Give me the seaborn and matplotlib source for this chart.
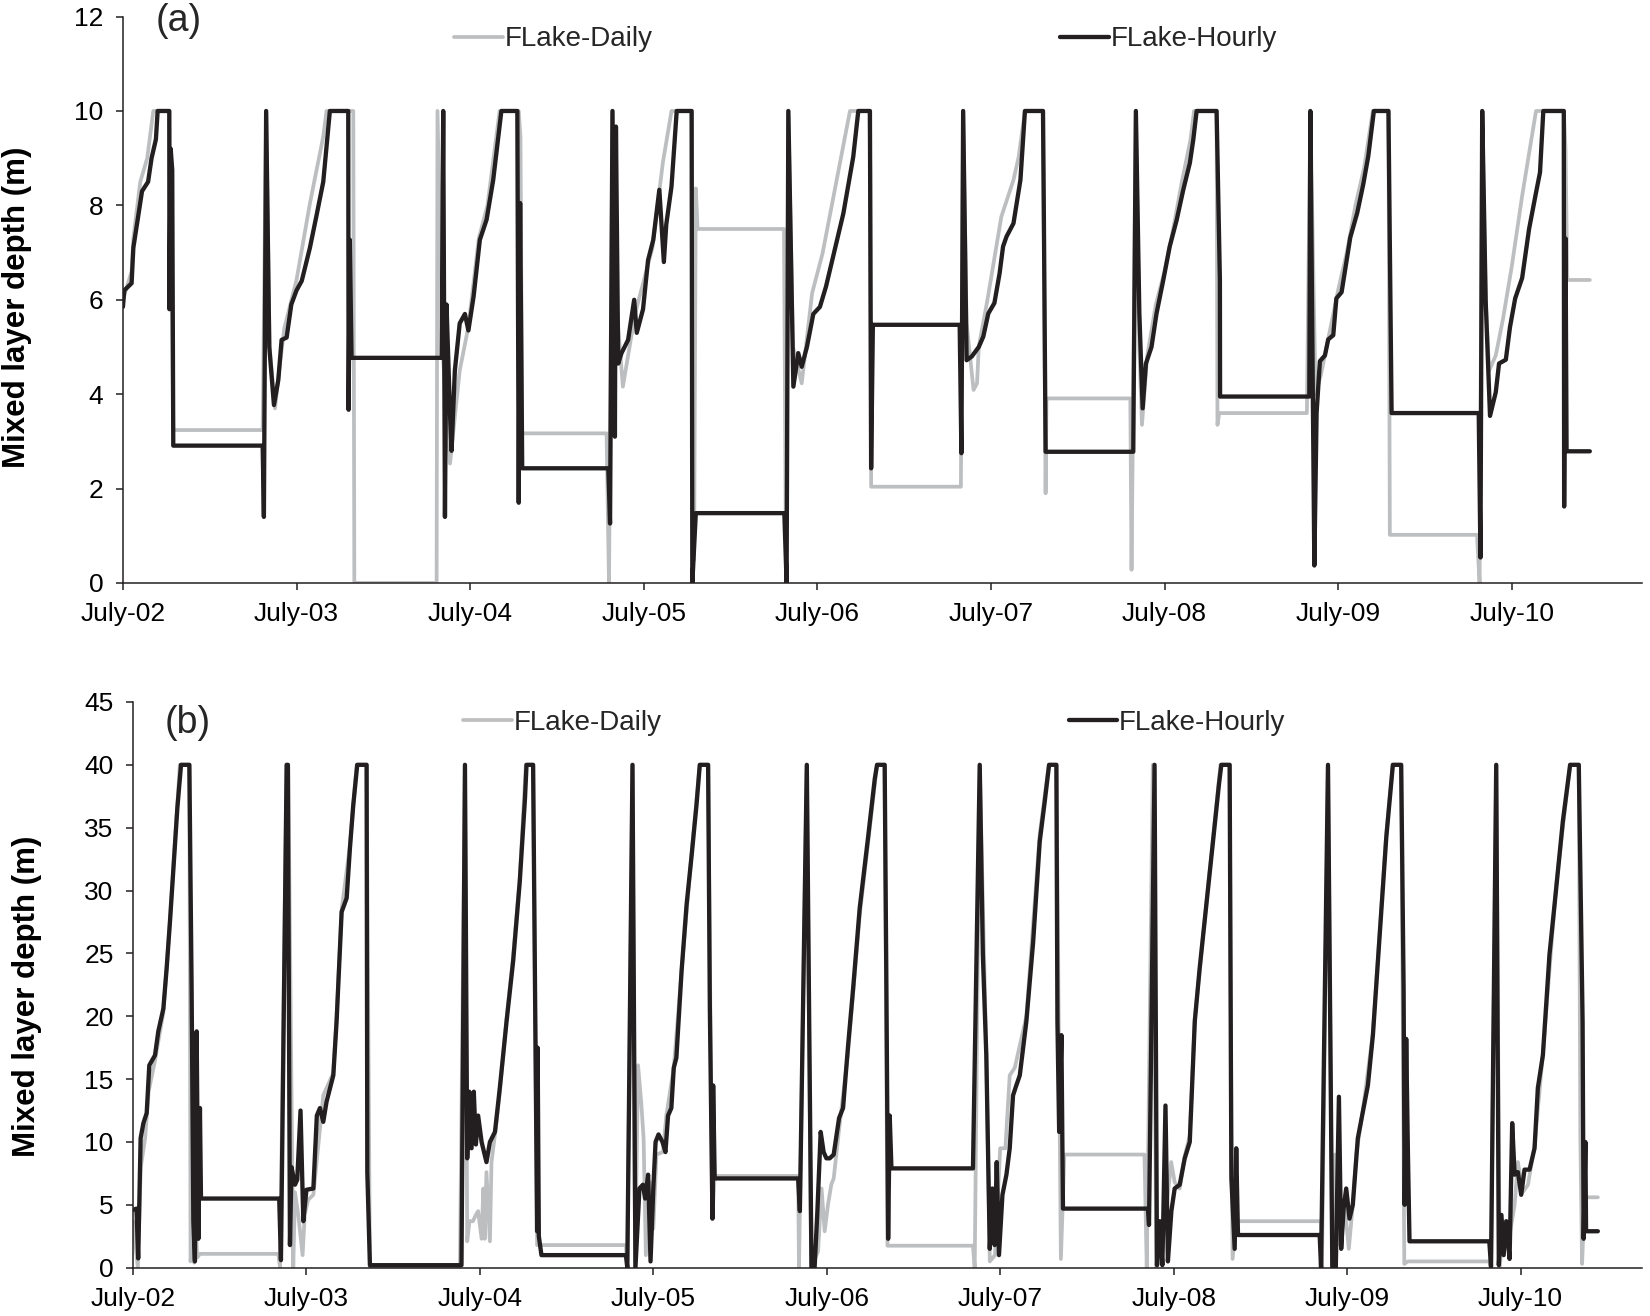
import matplotlib
matplotlib.use('Agg')
import matplotlib.pyplot as plt
import pandas as pd
import seaborn as sns

sns.set_style('ticks')
plt.rcParams['font.family'] = ['Liberation Sans', 'DejaVu Sans']

# Days after July-02 00:00 and mixed layer depth (m)
# Panel (a)
a_hourly_t = [0.000, 0.008, 0.05, 0.06, 0.11, 0.145, 0.165, 0.19, 0.20, 0.267, 0.268, 0.275, 0.284, 0.29,
              0.805, 0.812, 0.825, 0.843, 0.87, 0.895, 0.914, 0.943, 0.97, 1.0, 1.03, 1.077, 1.116, 1.154,
              1.192, 1.298, 1.30, 1.307, 1.317, 1.836, 1.845, 1.855, 1.864, 1.884, 1.893, 1.912, 1.94, 1.97,
              1.99, 2.02, 2.056, 2.095, 2.133, 2.18, 2.272, 2.28, 2.288, 2.30, 2.796, 2.806, 2.82, 2.834,
              2.84, 2.853, 2.872, 2.91, 2.945, 2.96, 2.996, 3.025, 3.055, 3.09, 3.116, 3.13, 3.16, 3.19,
              3.276, 3.28, 3.30, 3.81, 3.823, 3.833, 3.862, 3.89, 3.91, 3.94, 3.977, 4.015, 4.05, 4.09,
              4.15, 4.207, 4.236, 4.303, 4.31, 4.32, 4.82, 4.83, 4.84, 4.86, 4.89, 4.93, 4.956, 4.985,
              5.02, 5.05, 5.07, 5.09, 5.13, 5.17, 5.196, 5.30, 5.305, 5.315, 5.82, 5.835, 5.855, 5.874,
              5.893, 5.925, 5.954, 5.993, 6.03, 6.07, 6.108, 6.146, 6.166, 6.185, 6.30, 6.319, 6.32, 6.834,
              6.84, 6.863, 6.876, 6.895, 6.924, 6.943, 6.972, 6.99, 7.02, 7.04, 7.07, 7.11, 7.145, 7.174,
              7.206, 7.29, 7.298, 7.308, 7.81, 7.82, 7.83, 7.85, 7.875, 7.908, 7.927, 7.966, 7.99, 8.02,
              8.06, 8.10, 8.14, 8.163, 8.182, 8.30, 8.302, 8.31, 8.316, 8.45]
a_hourly_v = [5.85, 6.2, 6.35, 7.1, 8.3, 8.5, 9.0, 9.4, 10.0, 10.0, 5.8, 9.2, 8.75, 2.91,
              2.91, 1.4, 10.0, 5.0, 3.77, 4.3, 5.15, 5.2, 5.9, 6.2, 6.4, 7.1, 7.8, 8.5,
              10.0, 10.0, 3.67, 7.27, 4.77, 4.77, 10.0, 1.4, 5.9, 3.6, 2.8, 4.5, 5.5, 5.7,
              5.35, 6.07, 7.27, 7.7, 8.54, 10.0, 10.0, 1.7, 8.05, 2.43, 2.43, 1.26, 10.0, 3.1,
              9.67, 4.65, 4.87, 5.15, 6.0, 5.3, 5.8, 6.84, 7.27, 8.33, 6.8, 7.6, 8.4, 10.0,
              10.0, 0.0, 1.48, 1.48, 0.0, 10.0, 4.16, 4.87, 4.58, 5.0, 5.7, 5.85, 6.28, 6.9,
              7.83, 9.03, 10.0, 10.0, 2.43, 5.47, 5.47, 2.75, 10.0, 4.72, 4.8, 5.0, 5.22, 5.71,
              5.93, 6.56, 7.13, 7.34, 7.62, 8.54, 10.0, 10.0, 7.76, 2.78, 2.78, 10.0, 5.71, 3.7,
              4.65, 5.0, 5.71, 6.42, 7.13, 7.69, 8.33, 8.9, 9.4, 10.0, 10.0, 6.42, 3.95, 3.95,
              10.0, 0.37, 3.6, 4.7, 4.82, 5.16, 5.25, 6.03, 6.16, 6.63, 7.32, 7.84, 8.45, 9.05,
              10.0, 10.0, 7.15, 3.6, 3.6, 0.54, 10.0, 5.98, 3.54, 4.04, 4.65, 4.73, 5.42, 6.03,
              6.46, 7.5, 8.27, 8.7, 10.0, 10.0, 1.62, 7.3, 2.79, 2.79]

a_daily_t = [0.0, 0.05, 0.06, 0.10, 0.14, 0.175, 0.267, 0.275, 0.29, 0.805, 0.825, 0.845, 0.876, 0.90,
             0.93, 1.0, 1.077, 1.154, 1.173, 1.327, 1.333, 1.807, 1.812, 1.84, 1.884, 1.94, 1.99, 2.05,
             2.10, 2.17, 2.28, 2.29, 2.30, 2.786, 2.80, 2.82, 2.84, 2.88, 2.95, 3.05, 3.11, 3.16, 3.276,
             3.29, 3.30, 3.31, 3.808, 3.82, 3.833, 3.86, 3.91, 3.97, 4.03, 4.188, 4.30, 4.305, 4.31,
             4.827, 4.84, 4.86, 4.90, 4.92, 4.93, 4.98, 5.06, 5.13, 5.16, 5.196, 5.30, 5.315, 5.32,
             5.803, 5.81, 5.835, 5.855, 5.87, 5.90, 5.95, 6.0, 6.05, 6.10, 6.15, 6.17, 6.30, 6.305,
             6.315, 6.82, 6.84, 6.87, 6.90, 6.95, 7.0, 7.05, 7.10, 7.15, 7.20, 7.29, 7.298, 7.80,
             7.815, 7.83, 7.85, 7.87, 7.908, 7.95, 8.0, 8.06, 8.14, 8.30, 8.31, 8.32, 8.45]
a_daily_v = [6.0, 6.6, 7.3, 8.5, 9.0, 10.0, 10.0, 8.0, 3.24, 3.24, 10.0, 5.0, 3.7, 4.5,
             5.4, 6.42, 8.04, 9.46, 10.0, 10.0, 0.0, 0.0, 10.0, 5.0, 2.53, 4.5, 5.43, 7.3,
             8.0, 10.0, 10.0, 9.45, 3.17, 3.17, 0.0, 10.0, 6.0, 4.16, 5.7, 7.1, 8.9, 10.0, 10.0,
             0.49, 8.36, 7.5, 7.5, 0.0, 10.0, 5.0, 4.23, 6.14, 6.98, 10.0, 10.0, 8.75, 2.04,
             2.04, 10.0, 5.5, 4.09, 4.23, 5.0, 6.0, 7.76, 8.54, 9.03, 10.0, 10.0, 1.9, 3.91,
             3.91, 0.28, 10.0, 5.0, 3.35, 4.8, 5.9, 6.6, 7.5, 8.5, 9.4, 10.0, 10.0, 3.35,
             3.6, 3.6, 10.0, 4.0, 4.4, 5.3, 6.2, 7.0, 8.0, 8.8, 10.0, 10.0, 1.02, 1.02,
             0.0, 10.0, 6.0, 4.5, 4.82, 5.6, 6.7, 8.2, 10.0, 10.0, 9.2, 6.42, 6.42]

# Panel (b)
b_hourly_t = [0.0, 0.02, 0.03, 0.044, 0.06, 0.079, 0.094, 0.127, 0.146, 0.175, 0.194, 0.213, 0.232, 0.256,
              0.277, 0.325, 0.338, 0.348, 0.357, 0.367, 0.377, 0.386, 0.392, 0.843, 0.853, 0.886, 0.893,
              0.905, 0.914, 0.934, 0.947, 0.966, 0.982, 1.0, 1.04, 1.06, 1.078, 1.097, 1.116, 1.155,
              1.174, 1.203, 1.232, 1.251, 1.27, 1.293, 1.347, 1.351, 1.366, 1.894, 1.914, 1.927, 1.939,
              1.952, 1.965, 1.977, 1.99, 2.01, 2.038, 2.058, 2.087, 2.115, 2.154, 2.192, 2.23, 2.26,
              2.269, 2.307, 2.33, 2.333, 2.34, 2.355, 2.842, 2.85, 2.88, 2.897, 2.92, 2.94, 2.953, 2.97,
              2.984, 3.0, 3.013, 3.03, 3.053, 3.07, 3.085, 3.104, 3.118, 3.133, 3.163, 3.192, 3.221,
              3.249, 3.268, 3.316, 3.326, 3.341, 3.345, 3.354, 3.835, 3.845, 3.885, 3.912, 3.93, 3.946,
              3.965, 3.982, 3.998, 4.017, 4.04, 4.071, 4.094, 4.122, 4.152, 4.19, 4.238, 4.277, 4.29,
              4.334, 4.344, 4.354, 4.363, 4.373, 4.843, 4.882, 4.90, 4.92, 4.94, 4.955, 4.968, 4.98,
              4.993, 5.013, 5.036, 5.055, 5.074, 5.093, 5.113, 5.151, 5.19, 5.228, 5.257, 5.282, 5.324,
              5.33, 5.34, 5.353, 5.362, 5.852, 5.858, 5.89, 5.904, 5.92, 5.935, 5.953, 5.967, 5.987,
              6.006, 6.035, 6.064, 6.093, 6.122, 6.15, 6.189, 6.227, 6.261, 6.275, 6.323, 6.333, 6.352,
              6.361, 6.371, 6.842, 6.85, 6.89, 6.915, 6.935, 6.953, 6.966, 6.98, 6.995, 7.014, 7.033,
              7.062, 7.091, 7.12, 7.149, 7.187, 7.226, 7.264, 7.312, 7.326, 7.332, 7.341, 7.351, 7.36,
              7.82, 7.83, 7.86, 7.875, 7.89, 7.903, 7.918, 7.937, 7.952, 7.966, 7.985, 8.004, 8.023,
              8.052, 8.081, 8.10, 8.129, 8.167, 8.206, 8.244, 8.286, 8.336, 8.358, 8.364, 8.374, 8.378,
              8.446]
b_hourly_v = [4.6, 4.7, 0.74, 10.3, 11.5, 12.3, 16.1, 16.9, 18.8, 20.6, 23.8, 27.5, 31.5, 36.6,
              40.0, 40.0, 22.2, 3.7, 0.5, 18.8, 2.3, 12.7, 5.5, 5.5, 0.6, 40.0, 40.0,
              1.8, 8.0, 6.6, 7.0, 12.5, 3.7, 6.2, 6.3, 12.1, 12.7, 11.6, 13.2, 15.3,
              19.6, 28.3, 29.4, 33.4, 36.8, 40.0, 40.0, 7.6, 0.2, 0.2, 40.0, 8.7, 14.0,
              9.5, 14.0, 9.8, 12.1, 10.0, 8.4, 10.0, 10.8, 14.3, 19.6, 24.4, 30.7, 37.3,
              40.0, 40.0, 2.9, 17.5, 2.5, 1.0, 1.0, 0.0, 40.0, 0.0, 6.3, 6.6, 5.5, 7.4,
              0.5, 6.3, 10.0, 10.6, 10.0, 9.2, 12.1, 12.7, 15.9, 16.7, 23.6, 28.9, 32.8,
              36.8, 40.0, 40.0, 20.6, 3.9, 14.5, 7.1, 7.1, 4.5, 40.0, 0.0, 0.0, 4.5,
              10.8, 9.2, 8.7, 8.7, 9.0, 11.9, 12.7, 17.5, 22.2, 28.6, 34.2, 38.9, 40.0,
              40.0, 22.2, 2.3, 12.1, 7.9, 7.9, 40.0, 24.9, 16.9, 1.5, 6.3, 1.8, 8.4,
              1.0, 5.8, 7.4, 9.5, 13.7, 14.5, 15.3, 19.6, 25.9, 33.9, 37.1, 40.0, 40.0,
              19.6, 10.8, 18.5, 4.7, 4.7, 3.4, 40.0, 0.2, 3.7, 0.2, 12.9, 0.5, 4.5,
              6.3, 6.6, 8.7, 10.0, 19.6, 23.8, 28.9, 33.9, 38.4, 40.0, 40.0, 7.1, 1.5,
              9.5, 2.6, 2.6, 0.0, 40.0, 0.0, 0.0, 13.6, 1.5, 4.7, 6.3, 3.9, 5.0,
              10.3, 12.4, 14.5, 18.5, 26.2, 34.2, 40.0, 40.0, 22.2, 5.0, 18.2, 9.0, 2.1,
              2.1, 0.1, 40.0, 0.2, 4.2, 1.0, 3.7, 0.7, 11.5, 7.4, 7.6, 5.8, 7.8,
              7.8, 9.5, 14.3, 16.9, 24.9, 30.2, 35.5, 40.0, 40.0, 19.6, 2.3, 10.0, 2.9,
              2.9]

b_daily_t = [0.0, 0.028, 0.045, 0.07, 0.09, 0.127, 0.175, 0.213, 0.256, 0.27, 0.325, 0.332, 0.345, 0.352,
             0.36, 0.37, 0.386, 0.838, 0.848, 0.886, 0.895, 0.924, 0.934, 0.953, 0.978, 0.99, 1.01, 1.04,
             1.097, 1.155, 1.174, 1.203, 1.251, 1.29, 1.347, 1.366, 1.885, 1.914, 1.927, 1.94, 1.96,
             1.977, 1.99, 2.01, 2.02, 2.028, 2.038, 2.058, 2.067, 2.096, 2.115, 2.154, 2.192, 2.23, 2.265,
             2.307, 2.33, 2.842, 2.85, 2.88, 2.895, 2.912, 2.93, 2.944, 2.957, 2.98, 3.0, 3.018, 3.056,
             3.075, 3.118, 3.163, 3.221, 3.268, 3.316, 3.34, 3.354, 3.835, 3.84, 3.885, 3.91, 3.95, 3.97,
             3.988, 4.007, 4.026, 4.04, 4.071, 4.122, 4.19, 4.29, 4.334, 4.35, 4.843, 4.853, 4.882, 4.92,
             4.94, 4.97, 5.0, 5.03, 5.055, 5.084, 5.151, 5.228, 5.28, 5.324, 5.35, 5.37, 5.832, 5.845,
             5.88, 5.90, 5.93, 5.986, 6.006, 6.035, 6.064, 6.093, 6.122, 6.189, 6.27, 6.323, 6.333, 6.34,
             6.36, 6.85, 6.855, 6.89, 6.915, 6.93, 6.958, 6.988, 7.01, 7.033, 7.053, 7.091, 7.149, 7.226,
             7.264, 7.312, 7.33, 7.35, 7.82, 7.83, 7.86, 7.88, 7.903, 7.937, 7.966, 7.985, 8.013, 8.043,
             8.081, 8.129, 8.206, 8.286, 8.336, 8.345, 8.355, 8.37, 8.446]
b_daily_v = [3.7, 0.0, 8.0, 10.3, 14.0, 16.5, 20.3, 27.5, 37.0, 40.0, 40.0, 0.5, 3.0, 0.4,
             4.0, 0.8, 1.1, 1.1, 0.0, 40.0, 40.0, 0.0, 6.0, 4.2, 1.0, 4.2, 5.4, 5.8,
             13.7, 15.5, 20.0, 28.5, 33.6, 40.0, 40.0, 0.0, 0.0, 40.0, 2.1, 3.7, 3.7,
             4.2, 4.5, 2.3, 6.3, 2.3, 7.6, 2.1, 8.4, 11.6, 14.0, 19.8, 24.8, 31.0, 40.0,
             40.0, 1.8, 1.8, 0.0, 40.0, 0.0, 16.1, 13.2, 10.3, 1.0, 6.8, 3.1, 9.0, 9.2,
             12.1, 15.9, 23.6, 33.0, 40.0, 40.0, 3.9, 7.3, 7.3, 0.0, 40.0, 0.0, 1.3, 6.3,
             2.9, 5.0, 6.6, 7.1, 11.0, 17.0, 28.0, 40.0, 40.0, 1.75, 1.75, 0.0, 40.0, 17.0,
             0.5, 1.0, 9.5, 9.5, 15.3, 15.9, 20.0, 34.5, 40.0, 40.0, 0.7, 9.0, 9.0, 0.0,
             40.0, 0.0, 1.0, 8.4, 6.8, 6.3, 8.9, 10.5, 19.8, 29.0, 40.0, 40.0, 11.1, 0.7,
             3.7, 3.7, 0.0, 40.0, 0.0, 9.0, 1.8, 4.7, 1.5, 5.0, 9.0, 12.5, 18.7, 34.5,
             40.0, 40.0, 0.3, 0.5, 0.5, 0.0, 40.0, 0.0, 3.7, 2.6, 5.0, 8.4, 6.0, 6.6,
             9.7, 17.0, 30.5, 40.0, 40.0, 10.3, 0.3, 5.6, 5.6]

day_ticks = [0, 1, 2, 3, 4, 5, 6, 7, 8]
day_labels = ['July-02', 'July-03', 'July-04', 'July-05', 'July-06',
              'July-07', 'July-08', 'July-09', 'July-10']
series_names = ['FLake-Daily', 'FLake-Hourly']
series_colors = {'FLake-Daily': '#BCBEC0', 'FLake-Hourly': '#231F20'}

INK = '#231F20'


def panel_frame(daily_t, daily_v, hourly_t, hourly_v):
    d = pd.DataFrame({'t': daily_t, 'v': daily_v, 'series': 'FLake-Daily'})
    h = pd.DataFrame({'t': hourly_t, 'v': hourly_v, 'series': 'FLake-Hourly'})
    return d, h


def draw_panel(ax, daily, hourly, ymax, ystep, xmax, tag, tag_xy, leg_x, leg_y):
    sns.lineplot(data=daily, x='t', y='v', ax=ax, color=series_colors['FLake-Daily'],
                 lw=2.7, sort=False, estimator=None, label='FLake-Daily', zorder=2)
    sns.lineplot(data=hourly, x='t', y='v', ax=ax, color=series_colors['FLake-Hourly'],
                 lw=3.1, sort=False, estimator=None, label='FLake-Hourly', zorder=3)
    ax.set_xlim(0, xmax)
    ax.set_ylim(0, ymax)
    ax.set_yticks(range(0, ymax + 1, ystep))
    ax.set_xticks(day_ticks)
    ax.set_xticklabels(day_labels)
    ax.set_xlabel('')
    ax.set_ylabel('Mixed layer depth (m)', fontsize=22.5, fontweight='bold', color='black')
    ax.tick_params(axis='both', labelsize=19, length=5, width=1.1, color=INK, pad=9,
                   labelcolor='black', direction='out')
    for side in ['left', 'bottom']:
        ax.spines[side].set_color(INK)
        ax.spines[side].set_linewidth(1.1)
    sns.despine(ax=ax)
    ax.text(tag_xy[0], tag_xy[1], tag, fontsize=27, va='center', ha='left')

    lines = ax.get_lines()
    if ax.get_legend() is not None:
        ax.get_legend().remove()
    common = dict(frameon=False, fontsize=20, handlelength=1.76, handletextpad=0.05,
                  borderpad=0, borderaxespad=0, loc='center left')
    leg1 = ax.legend(handles=[lines[0]], labels=[series_names[0]],
                     bbox_to_anchor=(leg_x[0], leg_y), **common)
    ax.add_artist(leg1)
    ax.legend(handles=[lines[1]], labels=[series_names[1]],
              bbox_to_anchor=(leg_x[1], leg_y), **common)


fig = plt.figure(figsize=(16.5, 13.16), dpi=100)
ax_a = fig.add_axes([0.0745, 0.5570, 0.9206, 0.4304])
ax_b = fig.add_axes([0.0806, 0.0367, 0.9145, 0.4299])

da, ha = panel_frame(a_daily_t, a_daily_v, a_hourly_t, a_hourly_v)
db, hb = panel_frame(b_daily_t, b_daily_v, b_hourly_t, b_hourly_v)

draw_panel(ax_a, da, ha, 12, 2, 8.75, '(a)', (0.19, 11.9), (0.218, 0.617), 0.960)
draw_panel(ax_b, db, hb, 45, 5, 8.70, '(b)', (0.18, 43.3), (0.219, 0.620), 0.963)

ax_a.yaxis.set_label_coords(-0.060, 0.487)
ax_b.yaxis.set_label_coords(-0.060, 0.48)

plt.savefig('out.png', dpi=100)
